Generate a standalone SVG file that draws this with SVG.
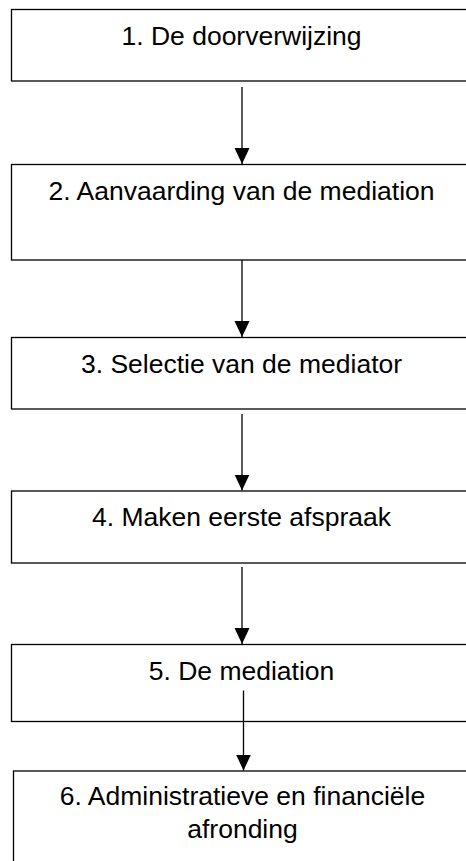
<svg xmlns="http://www.w3.org/2000/svg" width="466" height="861" viewBox="0 0 466 861">
<style>
.box{fill:#fff;stroke:#000;stroke-width:1.3}
.lbl{font-family:"Liberation Sans",Arial,sans-serif;font-size:26.5px;fill:#000;text-anchor:middle}
.conn{stroke:#000;stroke-width:1.3;fill:none;marker-end:url(#ah)}
</style>
<defs>
<marker id="ah" markerUnits="userSpaceOnUse" markerWidth="16" markerHeight="16" viewBox="0 0 16 16" refX="16" refY="8" orient="auto">
<path d="M0,0.5 L16,8 L0,15.5 Z" fill="#000"/>
</marker>
</defs>
<rect width="466" height="861" fill="#fff"/>
<g id="node1"><rect class="box" x="11.5" y="9.5" width="461" height="71.5"/><text class="lbl" x="241.5" y="45">1. De doorverwijzing</text></g>
<g id="node2"><rect class="box" x="11.5" y="164.5" width="461" height="95.5"/><text class="lbl" x="241.5" y="200">2. Aanvaarding van de mediation</text></g>
<g id="node3"><rect class="box" x="11.5" y="337.5" width="461" height="71.5"/><text class="lbl" x="241.5" y="373">3. Selectie van de mediator</text></g>
<g id="node4"><rect class="box" x="11.5" y="491" width="461" height="72"/><text class="lbl" x="241.5" y="526">4. Maken eerste afspraak</text></g>
<g id="node5"><rect class="box" x="11.5" y="644.5" width="461" height="77"/><text class="lbl" x="241.5" y="680">5. De mediation</text></g>
<g id="node6"><rect class="box" x="13.5" y="771" width="461" height="100"/><text class="lbl" x="242.5" y="805">6. Administratieve en financiële</text><text class="lbl" x="242.5" y="838">afronding</text></g>
<g id="connectors">
<line class="conn" x1="242" y1="87" x2="242" y2="164"/>
<line class="conn" x1="242" y1="260" x2="242" y2="337"/>
<line class="conn" x1="242" y1="414" x2="242" y2="490.5"/>
<line class="conn" x1="242" y1="567" x2="242" y2="644"/>
<line class="conn" x1="243.5" y1="690.5" x2="243.5" y2="770.5"/>
</g>
</svg>
